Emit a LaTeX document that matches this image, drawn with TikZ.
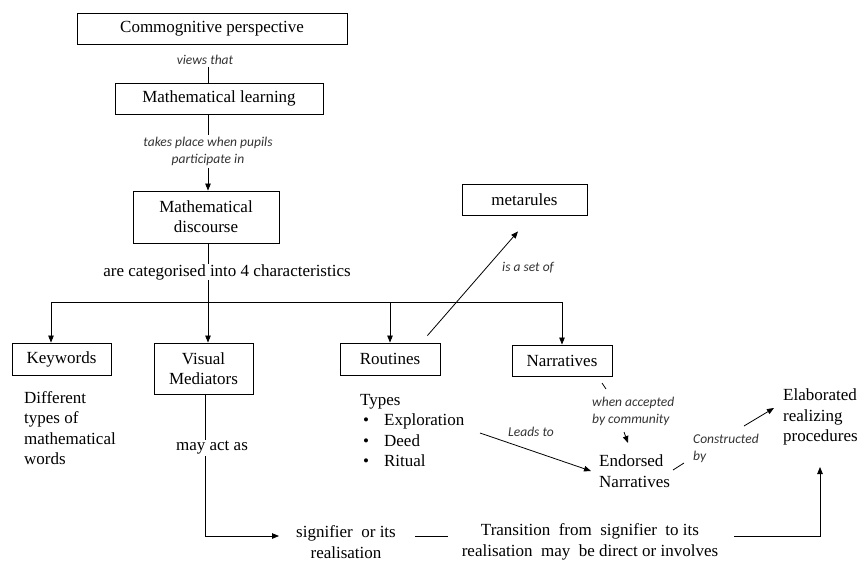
\documentclass[tikz,border=0pt]{standalone}
\usepackage{fontspec}
\setmainfont{Liberation Serif}
\newfontfamily\labfont{Carlito}
\usetikzlibrary{arrows.meta,calc}
\begin{document}
\begin{tikzpicture}[x=1pt,y=-1pt,
  box/.style={draw, line width=0.9pt, minimum height=31pt, inner sep=0pt, align=center, font=\fontsize{17}{20}\selectfont},
  txt/.style={inner sep=0pt, align=center, font=\fontsize{17}{20.5}\selectfont},
  lab/.style={inner sep=2pt, align=center, text=black!80, font=\labfont\itshape\fontsize{13.5}{17}\selectfont},
  conn/.style={line width=0.8pt},
  arr/.style={conn, -{Triangle[length=7pt,width=5.5pt]}}]
\useasboundingbox (0,0) rectangle (863,562);
% boxes and texts
\node[box, minimum width=270pt] (cp) at (212,28.5) {Commognitive perspective};
\node[lab] (views) at (205,60) {views that};
\node[box, minimum width=208pt] (ml) at (219,98.5) {Mathematical learning};
\node[lab] (takes) at (208,151.5) {takes place when pupils\\participate in};
\node[box, minimum width=146pt, minimum height=52pt] (md) at (206,217) {Mathematical\\discourse};
\node[txt] (cat) at (227,272) {are categorised into 4 characteristics};
\node[box, minimum width=99pt, minimum height=32pt] (kw) at (61.5,359) {Keywords};
\node[box, minimum width=99pt, minimum height=51pt] (vm) at (203.5,368.5) {Visual\\Mediators};
\node[box, minimum width=100pt, minimum height=32pt] (rt) at (390,359) {Routines};
\node[box, minimum width=100pt] (nr) at (562,360.5) {Narratives};
\node[box, minimum width=125pt] (mr) at (524.5,199.5) {metarules};
\node[lab] (set) at (528,268) {is a set of};
\node[txt, align=left, anchor=west] (kwd) at (24,428) {Different\\types of\\mathematical\\words};
\node[txt] (may) at (212,448) {may act as};
\node[txt] (sig) at (346,542) {signifier\ \ or its\\realisation};
\node[txt] (trans) at (590,542) {Transition\ \ from\ \ signifier\ \ to its\\realisation\ \ may\ \ be direct or involves};
\node[txt, align=left, anchor=west] (elab) at (783,417) {Elaborated\\realizing\\procedures};
\node[lab, align=left, anchor=west] (cons) at (691,448) {Constructed\\by};
\node[txt, align=left, anchor=west] (endn) at (599,471) {Endorsed\\Narratives};
\node[lab, align=left, anchor=west] (acc) at (590,411.5) {when accepted\\by community};
\node[txt, anchor=west] (types) at (360,432) {\renewcommand{\arraystretch}{1.0}\begin{tabular}{@{}l@{\hspace{15pt}}l@{}}
\multicolumn{2}{@{}l}{Types}\\
\hspace{3pt}\textbullet & Exploration\\
\hspace{3pt}\textbullet & Deed\\
\hspace{3pt}\textbullet & Ritual
\end{tabular}};
\node[lab] (leads) at (531,432) {Leads to};
% coordinates
\coordinate (hl) at (51,302);
\coordinate (hr) at (562,302);
\coordinate (sigin) at (279,536);
\coordinate (s1) at (415,536);
\coordinate (s2) at (448,536);
\coordinate (t1) at (734,536);
\coordinate (etip) at (820,467);
\coordinate (l1) at (480,433);
\coordinate (l2) at (591,471);
\coordinate (c1) at (673,470);
\coordinate (c2) at (684,463);
\coordinate (c3) at (744,426);
\coordinate (c4) at (774,408);
\coordinate (a1) at (602,383);
\coordinate (a2) at (606,389);
\coordinate (a3) at (624,432);
\coordinate (a4) at (628,443);
% connectors
\draw[conn] (takes.north |- views.south) -- (takes.north |- ml.north);
\draw[conn] (takes.north |- ml.south) -- (takes.north);
\draw[arr] (takes.south) -- (takes.south |- md.north);
\draw[conn] (takes.south |- md.south) -- (takes.south |- cat.north);
\draw[arr] (takes.south |- cat.south) -- (takes.south |- vm.north);
\draw[conn] (hl) -- (hr);
\draw[arr] (hl) -- (hl |- kw.north);
\draw[arr] (rt.north |- hl) -- (rt.north);
\draw[arr] (hr) -- (nr.north);
\draw[arr] ($(rt.north east)+(-13,-7)$) -- ($(mr.south)+(-6.5,16)$);
\draw[conn] ($(vm.south)+(1.5,0)$) -- ($(vm.south |- may.north)+(1.5,-1)$);
\draw[arr] ($(vm.south |- may.south)+(1.5,1)$) |- (sigin);
\draw[conn] (s1) -- (s2);
\draw[arr] (t1) -| (etip);
\draw[arr] (l1) -- (l2);
\draw[conn] (c1) -- (c2);
\draw[arr] (c3) -- (c4);
\draw[conn] (a1) -- (a2);
\draw[arr] (a3) -- (a4);
\end{tikzpicture}
\end{document}
